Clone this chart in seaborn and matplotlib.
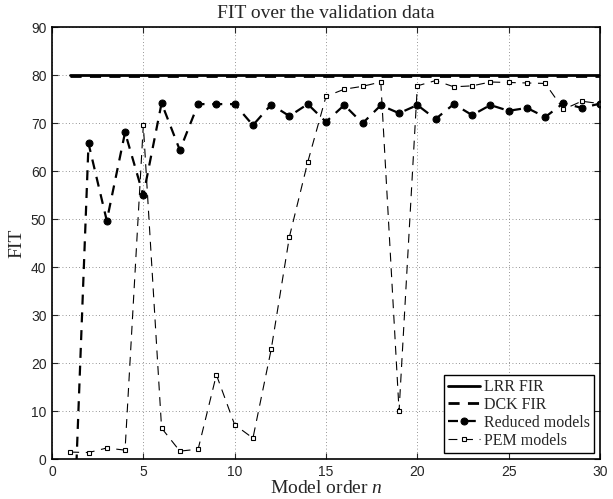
import numpy as np
import pandas as pd
import seaborn as sns
import matplotlib.pyplot as plt

order = list(range(1, 31))
lrr_fir = 80.1
dck_fir = 79.8
reduced = [-35.0, 65.8, 49.7, 68.1, 55.0, 74.2, 64.4, 74.0, 74.0, 74.0,
           69.6, 73.9, 71.5, 74.0, 70.3, 73.8, 70.0, 73.75, 72.1, 73.8,
           70.9, 74.0, 71.7, 73.8, 72.6, 73.2, 71.3, 74.2, 73.2, 74.1]
pem = [1.5, 1.4, 2.35, 1.9, 69.6, 6.5, 1.7, 2.1, 17.6, 7.2,
       4.4, 22.9, 46.4, 61.9, 75.6, 77.1, 77.7, 78.6, 10.1, 77.8,
       78.9, 77.6, 77.8, 78.6, 78.5, 78.4, 78.3, 72.9, 74.6, 74.1]

df = pd.DataFrame({"n": order, "reduced": reduced, "pem": pem,
                   "lrr": [lrr_fir] * len(order), "dck": [dck_fir] * len(order)})

sns.set_style("ticks")
plt.rcParams["font.family"] = ["Liberation Sans", "DejaVu Sans"]
plt.rcParams["xtick.direction"] = "in"
plt.rcParams["ytick.direction"] = "in"
plt.rcParams["mathtext.fontset"] = "custom"
plt.rcParams["mathtext.it"] = "Liberation Serif:italic"
plt.rcParams["mathtext.rm"] = "Liberation Serif"

fig = plt.figure(figsize=(6.13, 4.99), dpi=100)
ax = fig.add_axes([0.0848, 0.0796, 0.894, 0.8657])

sns.lineplot(data=df, x="n", y="lrr", ax=ax, color="black", lw=2, label="LRR FIR")
sns.lineplot(data=df, x="n", y="dck", ax=ax, color="black", lw=2, ls=(0, (4, 3)), label="DCK FIR")
sns.lineplot(data=df, x="n", y="reduced", ax=ax, color="black", lw=1.6, ls=(0, (4.5, 3.5)),
             marker="o", markersize=5, markerfacecolor="black", markeredgecolor="black",
             label="Reduced models")
sns.lineplot(data=df, x="n", y="pem", ax=ax, color="black", lw=0.8, ls=(0, (8, 6)),
             marker="s", markersize=3.5, markerfacecolor="white", markeredgecolor="black",
             markeredgewidth=0.8, label="PEM models")

ax.set_xlim(0, 30)
ax.set_ylim(0, 90)
ax.set_xticks(range(0, 31, 5))
ax.set_yticks(range(0, 91, 10))
ax.tick_params(labelsize=10, top=True, right=True, length=4, width=0.8, pad=4)
ax.grid(True, ls=(0, (1, 3)), color="0.45", lw=0.6)
for s in ax.spines.values():
    s.set_linewidth(1.2)
    s.set_color("black")

serif = ["Liberation Serif", "DejaVu Serif"]
ax.set_title("FIT over the validation data", family=serif, fontsize=14, pad=7)
ax.set_xlabel("Model order $n$", family=serif, fontsize=14, labelpad=1)
ax.set_ylabel("FIT", family=serif, fontsize=14, labelpad=4)

leg = ax.legend(loc="lower right", prop={"family": serif, "size": 11.5}, fancybox=False,
                framealpha=1, edgecolor="black", borderaxespad=0.4, handlelength=2.0,
                handletextpad=0.2, labelspacing=0.12, borderpad=0.25)
leg.get_frame().set_linewidth(1.0)

fig.savefig("out.png", dpi=100)
